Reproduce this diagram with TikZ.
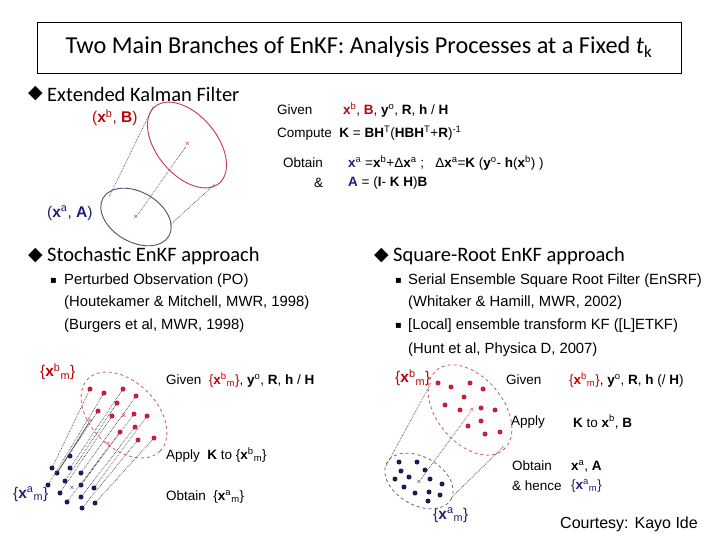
\documentclass[tikz,border=0pt]{standalone}
\usepackage{fontspec}
\setmainfont{Carlito}
\newfontfamily\tah{Liberation Sans}
\newfontfamily\dv{DejaVu Sans}
\definecolor{myred}{HTML}{C00000}
\definecolor{mynavy}{HTML}{1F1F7A}
\definecolor{dotred}{HTML}{C41E3A}
\definecolor{dotblue}{HTML}{1B1B5A}
\definecolor{ellred}{HTML}{C8384F}
\definecolor{ellblue}{HTML}{4F4F6F}
\definecolor{dashred}{HTML}{CC5566}
\definecolor{dashgray}{HTML}{666677}
\definecolor{linkgray}{HTML}{444444}
\newcommand{\vx}{\textbf{x}}
\newcommand{\sps}[1]{\textsuperscript{#1}}
\newcommand{\sbs}[1]{\textsubscript{#1}}
\begin{document}
\begin{tikzpicture}[x=1pt,y=-1pt,
  txt/.style={inner sep=0pt, anchor=west},
  head/.style={txt, font=\fontsize{20.5}{24}\selectfont},
  body/.style={txt, font=\tah\fontsize{14.8}{17}\selectfont},
  frm/.style={txt, font=\tah\fontsize{13.5}{16}\selectfont},
  lab/.style={txt, font=\tah\fontsize{15.5}{18}\selectfont},
  bul/.style={txt, font=\dv\fontsize{10}{10}\selectfont},
  dia/.style={txt, font=\dv\fontsize{19}{19}\selectfont},
  dotr/.style={circle, fill=dotred, inner sep=0pt, minimum size=5pt},
  dotb/.style={circle, fill=dotblue, inner sep=0pt, minimum size=5pt},
  link/.style={draw=linkgray, densely dotted, line width=0.7pt},
  crossr/.style={inner sep=0pt, text=ellred, font=\tah\fontsize{8}{8}\selectfont},
  crossb/.style={inner sep=0pt, text=ellblue, font=\tah\fontsize{8}{8}\selectfont},
]
\useasboundingbox (0,0) rectangle (720,540);
\fill[white] (0,0) rectangle (720,540);

% title
\node[draw, line width=0.8pt, minimum width=644pt, minimum height=51pt, inner sep=0pt,
  font=\fontsize{24.3}{28}\selectfont] (title) at (359,47.5)
  {Two Main Branches of EnKF: Analysis Processes at a Fixed \textit{t}\sbs{k}};

% ===== Extended Kalman Filter =====
\node[dia] (ekfD) at (28,94) {◆};
\node[head] (ekfH) at (47,94) {Extended Kalman Filter};
\node[lab, text=myred] (ekfXb) at (92,118) {(\vx\sps{b}, \textbf{B})};
\node[lab, text=mynavy] (ekfXa) at (47,213) {(\vx\sps{a}, \textbf{A})};

\draw[ellred, line width=0.9pt, rotate around={-50:(187,145)}] (187,145) ellipse [x radius=50pt, y radius=30pt];
\draw[ellblue, line width=0.9pt, rotate around={-30:(136,217)}] (136,217) ellipse [x radius=38pt, y radius=25pt];
\node[crossr] (ekfRc) at (187.5,144.5) {×};
\node[crossb] (ekfBc) at (136,217) {×};
\coordinate (ekfT1) at (153,107);
\coordinate (ekfT2) at (109,197);
\coordinate (ekfT3) at (215,184);
\coordinate (ekfT4) at (170,225);
\path[link] (ekfT1) -- (ekfT2);
\path[link] (ekfT3) -- (ekfT4);
\path[link] (ekfRc) -- (ekfBc);

\node[frm] (eG) at (277,110) {Given};
\node[frm] (eGr) at (343,110) {{\color{myred}\vx\sps{b}}, {\color{myred}\textbf{B}}, \textbf{y}\sps{o}, \textbf{R}, \textbf{h} / \textbf{H}};
\node[frm] (eC) at (277,133) {Compute\ \ \textbf{K} = \textbf{BH}\sps{T}(\textbf{HBH}\sps{T}+\textbf{R})\sps{-1}};
\node[frm] (eO) at (283,163) {Obtain};
\node[frm] (eOr) at (348,163) {{\color{mynavy}\vx\sps{a}} =\vx\sps{b}+Δ\vx\sps{a} ;\ \ \ Δ\vx\sps{a}=\textbf{K} (\textbf{y}\sps{o}- \textbf{h}(\vx\sps{b}) )};
\node[frm] (eA) at (314,183) {\&};
\node[frm] (eAr) at (348,183) {{\color{mynavy}\textbf{A}} = (\textbf{I}- \textbf{K H})\textbf{B}};

% ===== Stochastic EnKF =====
\node[dia] (stD) at (28,256) {◆};
\node[head] (stH) at (47,256) {Stochastic EnKF approach};
\node[bul] (stB1) at (50,281) {▪};
\node[body] (stL1) at (64,281) {Perturbed Observation (PO)};
\node[body] (stL2) at (64,303) {(Houtekamer \& Mitchell, MWR, 1998)};
\node[body] (stL3) at (64,326) {(Burgers et al, MWR, 1998)};

\node[lab, text=myred] (stXb) at (40,372) {\{\vx\sps{b}\sbs{m}\}};
\node[lab, text=mynavy] (stXa) at (13,494) {\{\vx\sps{a}\sbs{m}\}};
\draw[dashred, dashed, line width=0.8pt, rotate around={-45:(124,415)}] (124,415) ellipse [x radius=51pt, y radius=33pt];

\node[dotr] (r1) at (90,389) {};
\node[dotr] (r2) at (104,393) {};
\node[dotr] (r3) at (123,389) {};
\node[dotr] (r4) at (136,396) {};
\node[dotr] (r5) at (117,403) {};
\node[dotr] (r6) at (98,411) {};
\node[dotr] (r7) at (112,416) {};
\node[dotr] (r8) at (134,414) {};
\node[dotr] (r9) at (147,416) {};
\node[dotr] (r10) at (120,432) {};
\node[dotr] (r11) at (135,427) {};
\node[dotr] (r12) at (138,440) {};
\node[dotr] (r13) at (154,438) {};

\node[dotb] (b1) at (70,456) {};
\node[dotb] (b2) at (52,468) {};
\node[dotb] (b3) at (70,468) {};
\node[dotb] (b4) at (57,473) {};
\node[dotb] (b5) at (81,473) {};
\node[dotb] (b6) at (48,485) {};
\node[dotb] (b7) at (65,481) {};
\node[dotb] (b8) at (81,485) {};
\node[dotb] (b9) at (94,488) {};
\node[dotb] (b10) at (60,493) {};
\node[dotb] (b11) at (81,497) {};
\node[dotb] (b12) at (67,502) {};
\node[dotb] (b13) at (95,503) {};
\node[dotb] (b14) at (82,508) {};

\node[crossr] (stRc) at (124,416) {×};
\node[crossr] (stM1) at (90,421) {×};
\node[crossr] (stM2) at (108,444) {×};
\node[crossb] (stBc) at (72,488) {×};

\foreach \r/\b in {r1/b2, r2/b6, r6/b4, r3/b3, r5/b7, r7/b10, r4/b5, r10/b12, r8/b8, r11/b11, r9/b9, r12/b14, r13/b13}
  \path[link] (\r) -- (\b);
\draw[linkgray, line width=0.6pt] (b4) -- (stM1);

\node[frm] (sG) at (166,380) {Given\ \ {\color{myred}\{\vx\sps{b}\sbs{m}\}}, \textbf{y}\sps{o}, \textbf{R}, \textbf{h} / \textbf{H}};
\node[frm] (sA) at (166,455) {Apply\ \ \textbf{K} to \{\vx\sps{b}\sbs{m}\}};
\node[frm] (sO) at (166,497) {Obtain\ \ \{\vx\sps{a}\sbs{m}\}};

% ===== Square-Root EnKF =====
\node[dia] (sqD) at (374,256) {◆};
\node[head] (sqH) at (393,256) {Square-Root EnKF approach};
\node[bul] (sqB1) at (395,281) {▪};
\node[body] (sqL1) at (408,281) {Serial Ensemble Square Root Filter (EnSRF)};
\node[body] (sqL2) at (408,303) {(Whitaker \& Hamill, MWR, 2002)};
\node[bul] (sqB2) at (395,326) {▪};
\node[body] (sqL3) at (408,326) {[Local] ensemble transform KF ([L]ETKF)};
\node[body] (sqL4) at (408,350) {(Hunt et al, Physica D, 2007)};

\node[lab, text=myred] (sqXb) at (395,378) {\{\vx\sps{b}\sbs{m}\}};
\node[lab, text=mynavy] (sqXa) at (433,515) {\{\vx\sps{a}\sbs{m}\}};

\draw[dashred, dashed, line width=0.8pt, rotate around={-50:(470,410)}] (470,410) ellipse [x radius=52pt, y radius=33pt];
\draw[dashgray, dashed, line width=0.8pt, rotate around={-30:(419,481)}] (419,481) ellipse [x radius=37pt, y radius=24pt];

\node[dotr] (q1) at (438,383) {};
\node[dotr] (q2) at (451,387) {};
\node[dotr] (q3) at (470,383) {};
\node[dotr] (q4) at (483,389) {};
\node[dotr] (q5) at (464,397) {};
\node[dotr] (q6) at (445,405) {};
\node[dotr] (q7) at (460,410) {};
\node[dotr] (q8) at (481,408) {};
\node[dotr] (q9) at (495,410) {};
\node[dotr] (q10) at (468,426) {};
\node[dotr] (q11) at (481,421) {};
\node[dotr] (q12) at (485,434) {};
\node[dotr] (q13) at (500,432) {};

\node[dotb] (p1) at (399,462) {};
\node[dotb] (p2) at (417,462) {};
\node[dotb] (p3) at (401,471) {};
\node[dotb] (p4) at (425,470) {};
\node[dotb] (p5) at (409,477) {};
\node[dotb] (p6) at (395,479) {};
\node[dotb] (p7) at (430,479) {};
\node[dotb] (p8) at (404,487) {};
\node[dotb] (p9) at (442,484) {};
\node[dotb] (p10) at (415,493) {};
\node[dotb] (p11) at (429,492) {};
\node[dotb] (p12) at (440,495) {};
\node[dotb] (p13) at (428,501) {};

\node[crossr] (sqRc) at (472,410) {×};
\node[crossb] (sqBc) at (419,482) {×};
\coordinate (sqT1) at (431,383);
\coordinate (sqT2) at (386,466);
\coordinate (sqT3) at (504,446);
\coordinate (sqT4) at (452,497);
\path[link] (sqT1) -- (sqT2);
\path[link] (sqT3) -- (sqT4);
\path[link] (sqRc) -- (sqBc);

\node[frm] (qG) at (506,380) {Given};
\node[frm] (qGr) at (569,380) {{\color{myred}\{\vx\sps{b}\sbs{m}\}}, \textbf{y}\sps{o}, \textbf{R}, \textbf{h} (/ \textbf{H})};
\node[frm] (qA) at (511,422) {Apply};
\node[frm] (qAr) at (573,422) {\textbf{K} to \vx\sps{b}, \textbf{B}};
\node[frm] (qO) at (512,466) {Obtain};
\node[frm] (qOr) at (571,466) {\vx\sps{a}, \textbf{A}};
\node[frm] (qH) at (512,486) {\& hence};
\node[frm] (qHr) at (571,486) {{\color{mynavy}\{\vx\sps{a}\sbs{m}\}}};

\node[txt, font=\tah\fontsize{16}{18}\selectfont] (court) at (560,524) {Courtesy: Kayo Ide};
\end{tikzpicture}
\end{document}
